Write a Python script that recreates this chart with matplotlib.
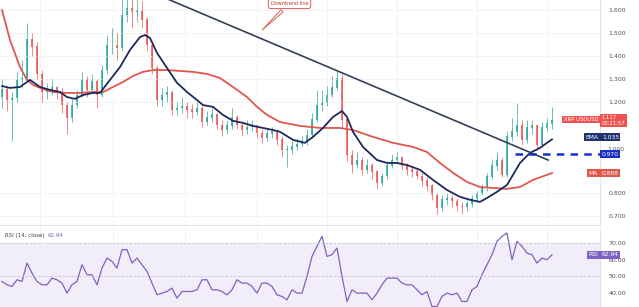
import matplotlib
matplotlib.use("Agg")
import matplotlib.pyplot as plt

# candle closes / highs / lows, one per bar
closes = [1.251, 1.207, 1.216, 1.295, 1.303, 1.470, 1.440, 1.320, 1.240, 1.251,
          1.260, 1.242, 1.185, 1.129, 1.185, 1.229, 1.295, 1.251, 1.286, 1.229,
          1.338, 1.447, 1.447, 1.434, 1.578, 1.609, 1.592, 1.600, 1.557, 1.447,
          1.347, 1.207, 1.229, 1.242, 1.164, 1.172, 1.181, 1.164, 1.155, 1.172,
          1.111, 1.129, 1.142, 1.098, 1.076, 1.094, 1.129, 1.098, 1.076, 1.089,
          1.094, 1.063, 1.041, 1.059, 1.068, 1.033, 0.989, 0.989, 1.002, 1.015,
          1.024, 1.054, 1.120, 1.185, 1.194, 1.229, 1.260, 1.303, 1.120, 0.967,
          0.923, 0.945, 0.902, 0.919, 0.893, 0.845, 0.875, 0.919, 0.945, 0.954,
          0.919, 0.902, 0.893, 0.875, 0.854, 0.832, 0.792, 0.736, 0.771, 0.779,
          0.766, 0.744, 0.740, 0.753, 0.775, 0.797, 0.823, 0.871, 0.919, 0.945,
          0.880, 1.046, 1.068, 1.098, 1.033, 1.085, 1.094, 1.011, 1.085, 1.103,
          1.117]
highs = [1.30, 1.27, 1.24, 1.33, 1.38, 1.544, 1.50, 1.46, 1.34, 1.28,
         1.30, 1.27, 1.26, 1.20, 1.21, 1.25, 1.33, 1.31, 1.32, 1.30,
         1.36, 1.49, 1.52, 1.50, 1.66, 1.68, 1.66, 1.66, 1.64, 1.57,
         1.46, 1.36, 1.26, 1.27, 1.25, 1.20, 1.22, 1.20, 1.19, 1.20,
         1.18, 1.16, 1.17, 1.15, 1.12, 1.12, 1.17, 1.14, 1.11, 1.12,
         1.12, 1.10, 1.08, 1.08, 1.09, 1.08, 1.05, 1.01, 1.03, 1.04,
         1.05, 1.08, 1.15, 1.25, 1.25, 1.27, 1.31, 1.338, 1.32, 1.13,
         0.99, 0.98, 0.96, 0.95, 0.93, 0.90, 0.89, 0.94, 0.97, 0.98,
         0.96, 0.93, 0.92, 0.91, 0.89, 0.87, 0.84, 0.80, 0.79, 0.80,
         0.79, 0.78, 0.76, 0.77, 0.79, 0.81, 0.84, 0.89, 0.95, 0.98,
         0.96, 1.07, 1.13, 1.194, 1.12, 1.12, 1.12, 1.10, 1.11, 1.13,
         1.177]
lows = [1.17, 1.16, 1.03, 1.20, 1.26, 1.29, 1.40, 1.30, 1.20, 1.21,
        1.23, 1.21, 1.15, 1.06, 1.11, 1.17, 1.22, 1.22, 1.24, 1.17,
        1.22, 1.32, 1.41, 1.38, 1.42, 1.55, 1.52, 1.55, 1.52, 1.42,
        1.32, 1.18, 1.18, 1.20, 1.14, 1.14, 1.15, 1.13, 1.13, 1.14,
        1.09, 1.10, 1.11, 1.08, 1.05, 1.06, 1.08, 1.08, 1.05, 1.06,
        1.07, 1.04, 1.02, 1.03, 1.04, 1.01, 0.96, 0.915, 0.97, 0.99,
        1.00, 1.01, 1.04, 1.11, 1.16, 1.18, 1.22, 1.25, 1.09, 0.94,
        0.89, 0.91, 0.88, 0.89, 0.86, 0.82, 0.83, 0.86, 0.91, 0.93,
        0.90, 0.88, 0.87, 0.86, 0.83, 0.81, 0.77, 0.71, 0.72, 0.75,
        0.74, 0.72, 0.71, 0.72, 0.74, 0.76, 0.79, 0.81, 0.86, 0.90,
        0.87, 0.87, 1.03, 1.05, 1.01, 1.02, 1.06, 0.99, 1.00, 1.07,
        1.08]
opens = [1.22] + closes[:-1]

# 20 EMA and 50 MA, read at bar positions
ema_x = [0, 1.6, 3.6, 5.6, 7.6, 9.6, 11.6, 13, 14.6, 16.2, 18.2, 19.6, 21.6, 23.6,
         25.6, 27.6, 28.6, 29.6, 31, 33, 35, 37, 39, 40.2, 42.2, 44.2, 46.2, 48.2,
         50.2, 52.2, 54.2, 55.6, 58.2, 60.6, 62.2, 64.2, 66.2, 68, 69, 70.2, 72.2,
         75, 77, 79, 81, 83.6, 86.2, 89, 91.6, 93.6, 95.6, 97, 99, 101, 102.2,
         103.6, 105.6, 107.6, 109, 110]
ema_y = [1.268, 1.260, 1.264, 1.295, 1.264, 1.251, 1.242, 1.220, 1.212, 1.229,
         1.238, 1.238, 1.295, 1.351, 1.426, 1.482, 1.491, 1.478, 1.413, 1.347,
         1.282, 1.242, 1.207, 1.185, 1.177, 1.142, 1.116, 1.107, 1.094, 1.085,
         1.076, 1.068, 1.033, 1.020, 1.046, 1.085, 1.133, 1.159, 1.133, 1.068,
         1.002, 0.945, 0.932, 0.932, 0.923, 0.902, 0.858, 0.814, 0.784, 0.771,
         0.762, 0.779, 0.806, 0.836, 0.880, 0.932, 0.976, 0.998, 1.020, 1.035]
ma_x = [0, 1.6, 3.6, 5, 6.2, 8.2, 10.2, 13, 15.6, 18.2, 20.2, 22.2, 24.2, 26.2,
        28.2, 30.2, 33, 35.6, 38.2, 41, 43.6, 46.2, 49, 51, 53, 55.6, 59.6, 63.6,
        67.6, 70.2, 74.2, 78.2, 82.2, 85, 87.6, 90.2, 93, 95.6, 98.2, 101, 103.6,
        106.2, 110]
ma_y = [1.600, 1.469, 1.351, 1.295, 1.273, 1.255, 1.242, 1.238, 1.238, 1.242,
        1.242, 1.264, 1.286, 1.312, 1.330, 1.338, 1.338, 1.334, 1.330, 1.321,
        1.303, 1.264, 1.220, 1.177, 1.142, 1.111, 1.094, 1.085, 1.085, 1.076,
        1.046, 1.020, 1.002, 0.980, 0.932, 0.889, 0.849, 0.827, 0.823, 0.819,
        0.827, 0.858, 0.888]

# descending trendline and horizontal support
trend_x = [30, 109.2]
trend_y = [1.677, 0.945]
support_level = 0.970
support_start = 102.6

rsi = [47, 45, 44, 48, 47, 58, 52, 47, 45, 45,
       49, 48, 46, 40, 45, 47, 57, 51, 51, 45,
       55, 61, 59, 55, 66, 66, 58, 61, 57, 53,
       46, 39, 40, 41, 43, 37, 41, 41, 41, 42,
       48, 48, 42, 42, 41, 39, 42, 48, 46, 46,
       44, 40, 46, 46, 44, 39, 38, 36, 42, 40,
       40, 50, 62, 68, 74, 62, 63, 67, 50, 35,
       42, 40, 40, 40, 36, 40, 45, 49, 49, 49,
       46, 45, 45, 42, 39, 41, 32, 32, 38, 40,
       39, 40, 35, 35, 42, 44, 51, 57, 63, 71,
       74, 76, 60, 71, 68, 64, 63, 58, 61, 60,
       62.94]

price_ticks = [0.7, 0.8, 1.2, 1.3, 1.4, 1.5, 1.6]
rsi_ticks = [40, 50, 60, 70]

green = "#26a69a"
red = "#ef5350"

fig = plt.figure(figsize=(6.39, 3.07), dpi=100)
ax = fig.add_axes([0, 1 - 225 / 307, 600 / 639, 225 / 307])
ax2 = fig.add_axes([0, 0, 600 / 639, 79 / 307])

idx = list(range(len(closes)))
up = [c >= o for o, c in zip(opens, closes)]
cols = [green if u else red for u in up]

ax.vlines(idx, lows, highs, colors=cols, linewidth=0.6, alpha=0.8)
ax.bar(idx, [abs(c - o) + 0.002 for o, c in zip(opens, closes)],
       bottom=[min(o, c) for o, c in zip(opens, closes)],
       width=0.45, color=cols, alpha=0.8, linewidth=0)

ax.plot(ma_x, ma_y, color="#e0574d", lw=1.3)
ax.plot(ema_x, ema_y, color="#1c2a5e", lw=1.3)
ax.plot(trend_x, trend_y, color="#34405a", lw=1.2)
ax.plot([support_start, 119.6], [support_level, support_level],
        color="#1a2ec8", lw=1.8, linestyle=(0, (3, 2.5)), clip_on=False)

ax.set_xlim(-0.4, 119.6)
ax.set_ylim(0.661, 1.644)
ax.set_xticks([7.6, 22.2, 36.6, 51, 65, 79, 95, 109])
ax.set_yticks(price_ticks)
ax.grid(True, color="#f1f1f1", lw=0.6)
ax.tick_params(axis="x", length=0, labelbottom=False)
ax.yaxis.tick_right()
ax.tick_params(axis="y", length=0, labelsize=4.5, labelcolor="#555555", pad=6)
ax.set_yticklabels(["%.3f" % t for t in price_ticks])
for s in ["top", "left"]:
    ax.spines[s].set_visible(False)
ax.spines["right"].set_color("#e4e4e4")
ax.spines["bottom"].set_color("#e4e4e4")

# callout bubble on the trendline
ax.annotate("Downtrend line", xy=(51.6, 1.504), xytext=(57.5, 1.628),
            fontsize=3.5, color="#c0392b", ha="center", va="center",
            bbox=dict(boxstyle="round,pad=0.5", fc="white", ec="#d9605a", lw=0.7),
            arrowprops=dict(arrowstyle="wedge,tail_width=0.6", fc="white",
                            ec="#d9605a", lw=0.7))

# right side labels
def tag(axis, y, text, color, x=1.003, ha="left", size=4.3):
    axis.annotate(text, xy=(x, y), xycoords=("axes fraction", "data"),
                  fontsize=size, color="white", ha=ha, va="center",
                  annotation_clip=False,
                  bbox=dict(boxstyle="square,pad=0.25", fc=color, ec="none"))

ax.text(1.012, 1.0, "1.000", transform=ax.get_yaxis_transform(), fontsize=4.3,
        color="#555555", va="top", ha="left", clip_on=False)
tag(ax, closes[-1], "1.117\n00:21:57", red, size=3.8)
tag(ax, closes[-1] + 0.005, "XRP USDUSD", red, x=0.997, ha="right", size=3.8)
tag(ax, 1.044, "1.035", "#1f3373")
tag(ax, 1.044, "EMA", "#1f3373", x=0.997, ha="right")
tag(ax, support_level, "0.970", "#1a2ec8")
tag(ax, ma_y[-1], "0.888", "#e0574d")
tag(ax, ma_y[-1], "MA", "#e0574d", x=0.997, ha="right")

# RSI panel
ax2.axhspan(30, 70, color="#f1edf9", lw=0)
ax2.plot(idx, rsi, color="#7e63c0", lw=0.9)
for lvl in [70, 50, 30]:
    ax2.axhline(lvl, color="#c9c1da", lw=0.6, linestyle=(0, (3, 2)))
ax2.set_xlim(-0.4, 119.6)
ax2.set_ylim(31.7, 79)
ax2.set_xticks([7.6, 22.2, 36.6, 51, 65, 79, 95, 109])
ax2.grid(True, axis="x", color="#eeeeee", lw=0.6)
ax2.tick_params(axis="x", length=0, labelbottom=False)
ax2.yaxis.tick_right()
ax2.set_yticks(rsi_ticks)
ax2.set_yticklabels(["%.2f" % t for t in rsi_ticks])
ax2.tick_params(axis="y", length=0, labelsize=4.5, labelcolor="#555555", pad=6)
for s in ["top", "left", "bottom"]:
    ax2.spines[s].set_visible(False)
ax2.spines["right"].set_color("#e4e4e4")
tag(ax2, rsi[-1], "62.94", "#7e63c0")
tag(ax2, rsi[-1], "RSI", "#7e63c0", x=0.997, ha="right")
ax2.text(0.008, 0.9, "RSI (14, close)", transform=ax2.transAxes, fontsize=4,
         color="#444444", va="center")
ax2.text(0.08, 0.9, "62.94", transform=ax2.transAxes, fontsize=4,
         color="#7e63c0", va="center")

fig.savefig("out.png", dpi=100, facecolor="white")
